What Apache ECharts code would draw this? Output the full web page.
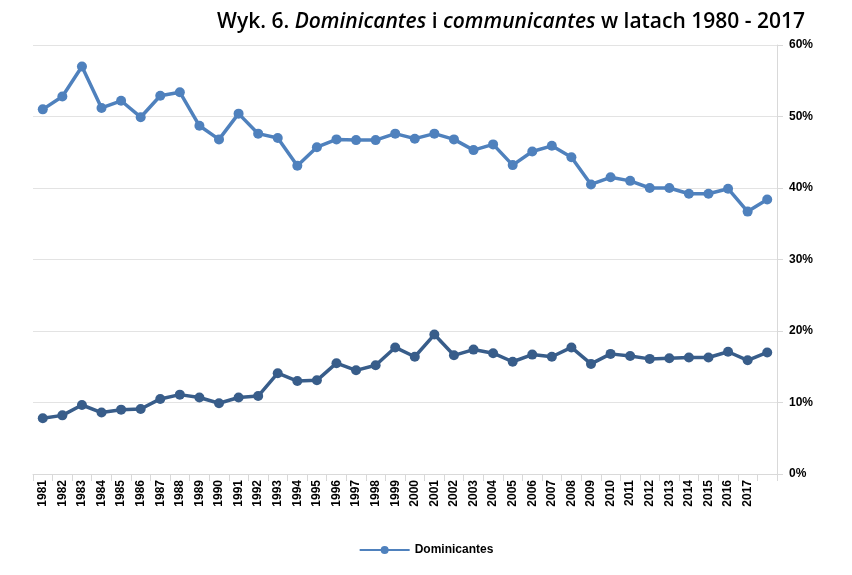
<!DOCTYPE html>
<html><head><meta charset="utf-8">
<script src="https://cdn.jsdelivr.net/npm/echarts@6/dist/echarts.min.js"></script>
<style>html,body{margin:0;padding:0;background:#fff}#c{width:852px;height:575px}</style>
</head><body><div id="c"></div>
<script>
const years = ['1981','1982','1983','1984','1985','1986','1987','1988','1989','1990','1991','1992','1993','1994','1995','1996','1997','1998','1999','2000','2001','2002','2003','2004','2005','2006','2007','2008','2009','2010','2011','2012','2013','2014','2015','2016','2017',''];
const dominicantes = [51.0,52.8,57.0,51.2,52.2,49.9,52.9,53.4,48.7,46.8,50.4,47.6,47.0,43.1,45.7,46.8,46.7,46.7,47.6,46.9,47.6,46.8,45.3,46.1,43.2,45.1,45.9,44.3,40.5,41.5,41.0,40.0,40.0,39.2,39.2,39.9,36.7,38.4];
const communicantes = [7.8,8.2,9.65,8.6,9.0,9.1,10.5,11.1,10.7,9.9,10.7,10.9,14.1,13.0,13.1,15.5,14.5,15.2,17.7,16.4,19.5,16.6,17.4,16.9,15.7,16.7,16.4,17.7,15.4,16.8,16.5,16.1,16.2,16.3,16.3,17.1,15.9,17.0];
const yTicks = [0,10,20,30,40,50,60];

const chart = echarts.init(document.getElementById('c'));
chart.setOption({
  animation:false,
  title:{
    text:'{n|Wyk. 6. }{i|Dominicantes}{n| i }{i|communicantes}{n| w latach 1980 - 2017}',
    right:42, top:7,
    textStyle:{rich:{
      n:{fontFamily:'Open Sans',fontSize:21,fontWeight:600,color:'#000'},
      i:{fontFamily:'Open Sans',fontSize:21,fontWeight:600,fontStyle:'italic',color:'#000'}
    }}
  },
  legend:{
    data:['Dominicantes'], bottom:14, left:'center',
    itemWidth:50, itemHeight:10,
    textStyle:{fontFamily:'Liberation Sans',fontSize:12,fontWeight:'bold',color:'#000'}
  },
  grid:{left:33,right:75,top:45,bottom:101},
  xAxis:{
    type:'category', data:years, boundaryGap:true,
    axisLine:{lineStyle:{color:'#d9d9d9',width:1}},
    axisTick:{show:true,alignWithLabel:false,length:7,lineStyle:{color:'#d9d9d9'}},
    axisLabel:{rotate:90,interval:0,fontFamily:'Liberation Sans',fontSize:12,fontWeight:'bold',color:'#000',margin:6}
  },
  yAxis:{
    type:'value', position:'right', min:0, max:60, interval:10,
    axisLine:{show:true,lineStyle:{color:'#d9d9d9'}},
    axisTick:{show:true,length:6,lineStyle:{color:'#d9d9d9'}},
    axisLabel:{formatter:v=>v+'%',fontFamily:'Liberation Sans',fontSize:12,fontWeight:'bold',color:'#000',margin:12},
    splitLine:{lineStyle:{color:'#e3e3e3',width:1}}
  },
  series:[
    {name:'Dominicantes',type:'line',data:dominicantes,symbol:'circle',symbolSize:10,
     lineStyle:{color:'#4F81BD',width:3.5},itemStyle:{color:'#4F81BD'}},
    {name:'Communicantes',type:'line',data:communicantes,symbol:'circle',symbolSize:10,
     lineStyle:{color:'#385D8A',width:3.5},itemStyle:{color:'#385D8A'}}
  ]
});
</script></body></html>
